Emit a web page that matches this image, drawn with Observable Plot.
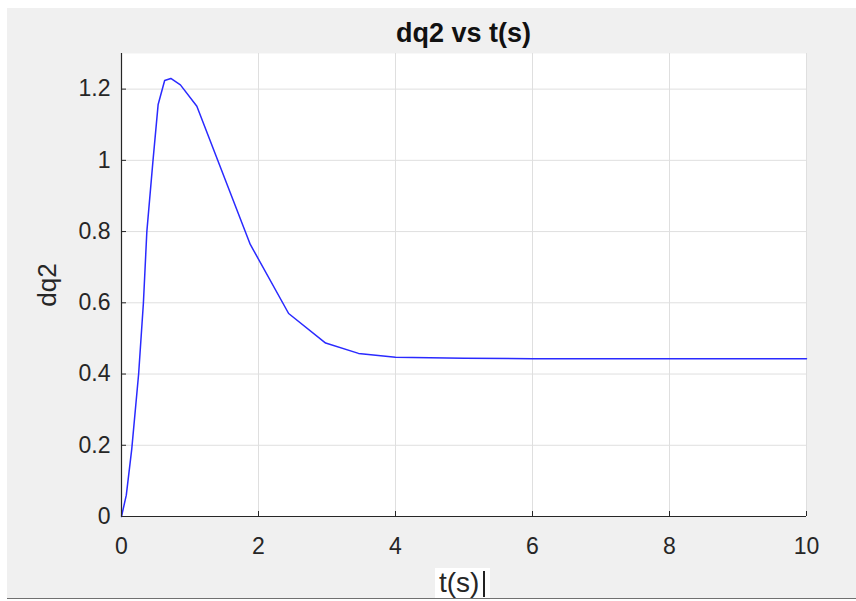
<!DOCTYPE html>
<html><head><meta charset="utf-8">
<script src="https://cdn.jsdelivr.net/npm/d3@7"></script>
<script src="https://cdn.jsdelivr.net/npm/@observablehq/plot@0.6"></script>
<style>
body{margin:0;background:#fff;}
#fig{position:absolute;left:7px;top:8px;width:849px;height:590px;background:#f0f0f0;border-bottom:1px solid #707070;font-family:"Liberation Sans",Arial,sans-serif;color:#262626;overflow:hidden;}
#fig svg{position:absolute;left:0;top:0;}
#title{position:absolute;left:114px;width:685px;top:10px;text-align:center;font-weight:bold;font-size:27px;color:#111;}
#ylab{position:absolute;left:40px;top:277px;transform:translate(-50%,-50%) rotate(-90deg);white-space:nowrap;font-size:26px;}
#xbox{position:absolute;left:428px;top:560px;width:55px;height:31px;background:#fff;}
#xlab{position:absolute;left:432px;top:559px;font-size:28px;white-space:nowrap;}
#cursor{position:absolute;left:476px;top:563px;width:2px;height:26px;background:#222;}
</style></head>
<body>
<div id="fig">
  <div id="chart"></div>
  <div id="title">dq2 vs t(s)</div>
  <div id="ylab">dq2</div>
  <div id="xbox"></div>
  <div id="xlab">t(s)</div>
  <div id="cursor"></div>
</div>
<script>
const tValues = [0, 0.07, 0.15, 0.25, 0.32, 0.37, 0.46, 0.535, 0.63, 0.72, 0.86, 1.1, 1.88, 2.44, 2.98, 3.46, 4.0, 5.0, 6.0, 8.0, 10.0];
const dq2Values = [0, 0.06, 0.19, 0.40, 0.60, 0.80, 1.0, 1.157, 1.224, 1.23, 1.212, 1.152, 0.764, 0.57, 0.487, 0.458, 0.447, 0.444, 0.443, 0.443, 0.443];
const xTicks = [0, 2, 4, 6, 8, 10];
const xTickLabels = ["0", "2", "4", "6", "8", "10"];
const yTicks = [0, 0.2, 0.4, 0.6, 0.8, 1.0, 1.2];
const yTickLabels = ["0", "0.2", "0.4", "0.6", "0.8", "1", "1.2"];

const data = tValues.map((t, i) => ({t, v: dq2Values[i]}));
const axisColor = "#262626";
const gridColor = "#dfdfdf";

const chart = Plot.plot({
  width: 849,
  height: 590,
  marginLeft: 114,
  marginRight: 50,
  marginTop: 45,
  marginBottom: 82,
  style: {background: "transparent", fontFamily: "'Liberation Sans', Arial, sans-serif", fontSize: "23px", color: axisColor, overflow: "visible"},
  x: {domain: [0, 10]},
  y: {domain: [0, 1.3]},
  marks: [
    Plot.frame({fill: "white", stroke: "none"}),
    Plot.ruleX(xTicks, {x: d => d, stroke: gridColor, strokeWidth: 1}),
    Plot.ruleY(yTicks, {y: d => d, stroke: gridColor, strokeWidth: 1}),
    Plot.line(data, {x: "t", y: "v", stroke: "#2a2aff", strokeWidth: 1.5}),
    Plot.ruleX([0], {x: d => d, stroke: axisColor, strokeWidth: 1.2}),
    Plot.ruleY([0], {y: d => d, stroke: axisColor, strokeWidth: 1.2}),
    Plot.tickY(yTicks, {y: d => d, stroke: axisColor, insetRight: 680}),
    Plot.tickX(xTicks, {x: d => d, stroke: axisColor, insetTop: 458}),
    Plot.axisX({ticks: xTicks, tickSize: 0, tickPadding: 21, label: null, fill: axisColor,
      tickFormat: d => xTickLabels[xTicks.indexOf(d)]}),
    Plot.axisY({ticks: yTicks, tickSize: 0, tickPadding: 11, label: null, fill: axisColor,
      tickFormat: d => yTickLabels[yTicks.indexOf(d)]})
  ]
});
document.getElementById("chart").appendChild(chart);
</script>
</body></html>
